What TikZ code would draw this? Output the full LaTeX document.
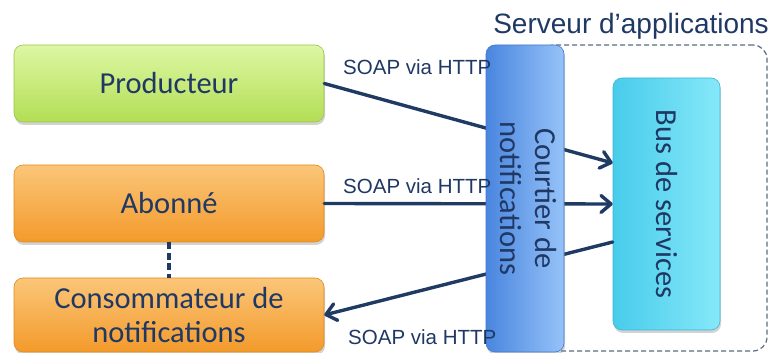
\documentclass[tikz,border=0pt]{standalone}
\usepackage{fontspec}
\setmainfont{Carlito}
\newfontfamily\arialfont{Liberation Sans}
\usepackage{graphicx}
\usetikzlibrary{shadows,arrows.meta,calc}
\definecolor{navy}{HTML}{1F3864}
\definecolor{arrowc}{HTML}{1F3A63}
\definecolor{grtop}{HTML}{DDF7A3}
\definecolor{grbot}{HTML}{B3DE55}
\definecolor{grbrd}{HTML}{9BC34A}
\definecolor{ortop}{HTML}{FBC679}
\definecolor{orbot}{HTML}{F39A2B}
\definecolor{orbrd}{HTML}{E08A20}
\definecolor{blleft}{HTML}{4A86DF}
\definecolor{blright}{HTML}{96C2F8}
\definecolor{blbrd}{HTML}{3F78CC}
\definecolor{cyleft}{HTML}{48CCEB}
\definecolor{cyright}{HTML}{86E8F9}
\definecolor{cybrd}{HTML}{3BB5D5}
\definecolor{dashc}{HTML}{5B6B82}
\begin{document}
\begin{tikzpicture}[x=1pt,y=1pt,
  boxbase/.style={rounded corners=9pt, inner sep=0pt, line width=0.6pt,
    text=navy, font=\fontsize{30.5}{36}\selectfont, align=center,
    drop shadow={shadow xshift=1pt,shadow yshift=-3pt,opacity=0.35}},
  actor/.style={boxbase, minimum width=310pt, minimum height=77pt},
  greenbox/.style={actor, draw=grbrd, top color=grtop, bottom color=grbot},
  orangebox/.style={actor, draw=orbrd, top color=ortop, bottom color=orbot},
  conn/.style={draw=arrowc, line width=3.4pt, line cap=round},
  tip/.style={-{Straight Barb[length=10pt,width=17pt,round]}},
  soap/.style={font=\arialfont\fontsize{20.5}{24}\selectfont, text=navy, anchor=west, inner sep=0pt}
]
\clip (0,0) rectangle (773,353);

\node[font=\arialfont\fontsize{28}{33}\selectfont, text=navy, inner sep=0pt, anchor=east] (title) at (769,327) {Serveur d’applications};

\node[draw=dashc, dash pattern=on 5pt off 3pt, line width=1.2pt, rounded corners=14pt,
  minimum width=227pt, minimum height=306pt, inner sep=0pt] (serveur) at (653.5,155) {};

\node[greenbox] (prod) at (169,269.5) {\raisebox{-4pt}{Producteur}};
\node[orangebox] (abonne) at (169,149.5) {\raisebox{-2pt}{Abonné}};
\node[orangebox, minimum height=74pt] (conso) at (169,38) {Consommateur de\\[-2pt]notifications};

\node[boxbase, draw=cybrd, left color=cyleft, right color=cyright,
  minimum width=107pt, minimum height=252pt] (bus) at (666.5,149)
  {\rotatebox{-90}{Bus de services}};

\draw[draw=arrowc, line width=3.6pt, dash pattern=on 7pt off 3.5pt] (abonne.south) -- (conso.north);

\draw[conn, tip] (prod.east) -- ($(bus.west)+(0,41)$);
\draw[conn, tip] (abonne.east) -- (bus.west);
\coordinate (busout) at ($(bus.west)+(0,-38)$);
\draw[conn, tip] (busout) -- (conso.east);

\node[boxbase, draw=blbrd, left color=blleft, right color=blright,
  minimum width=78pt, minimum height=307pt] (courtier) at (525,154.5)
  {\rotatebox{-90}{\begin{tabular}{@{}c@{}}Courtier de\\[-1pt]notifications\end{tabular}}};

\node[soap] (l1) at (343,286) {SOAP via HTTP};
\node[soap] (l2) at (343,167) {SOAP via HTTP};
\node[soap] (l3) at (348,16) {SOAP via HTTP};
\end{tikzpicture}
\end{document}
